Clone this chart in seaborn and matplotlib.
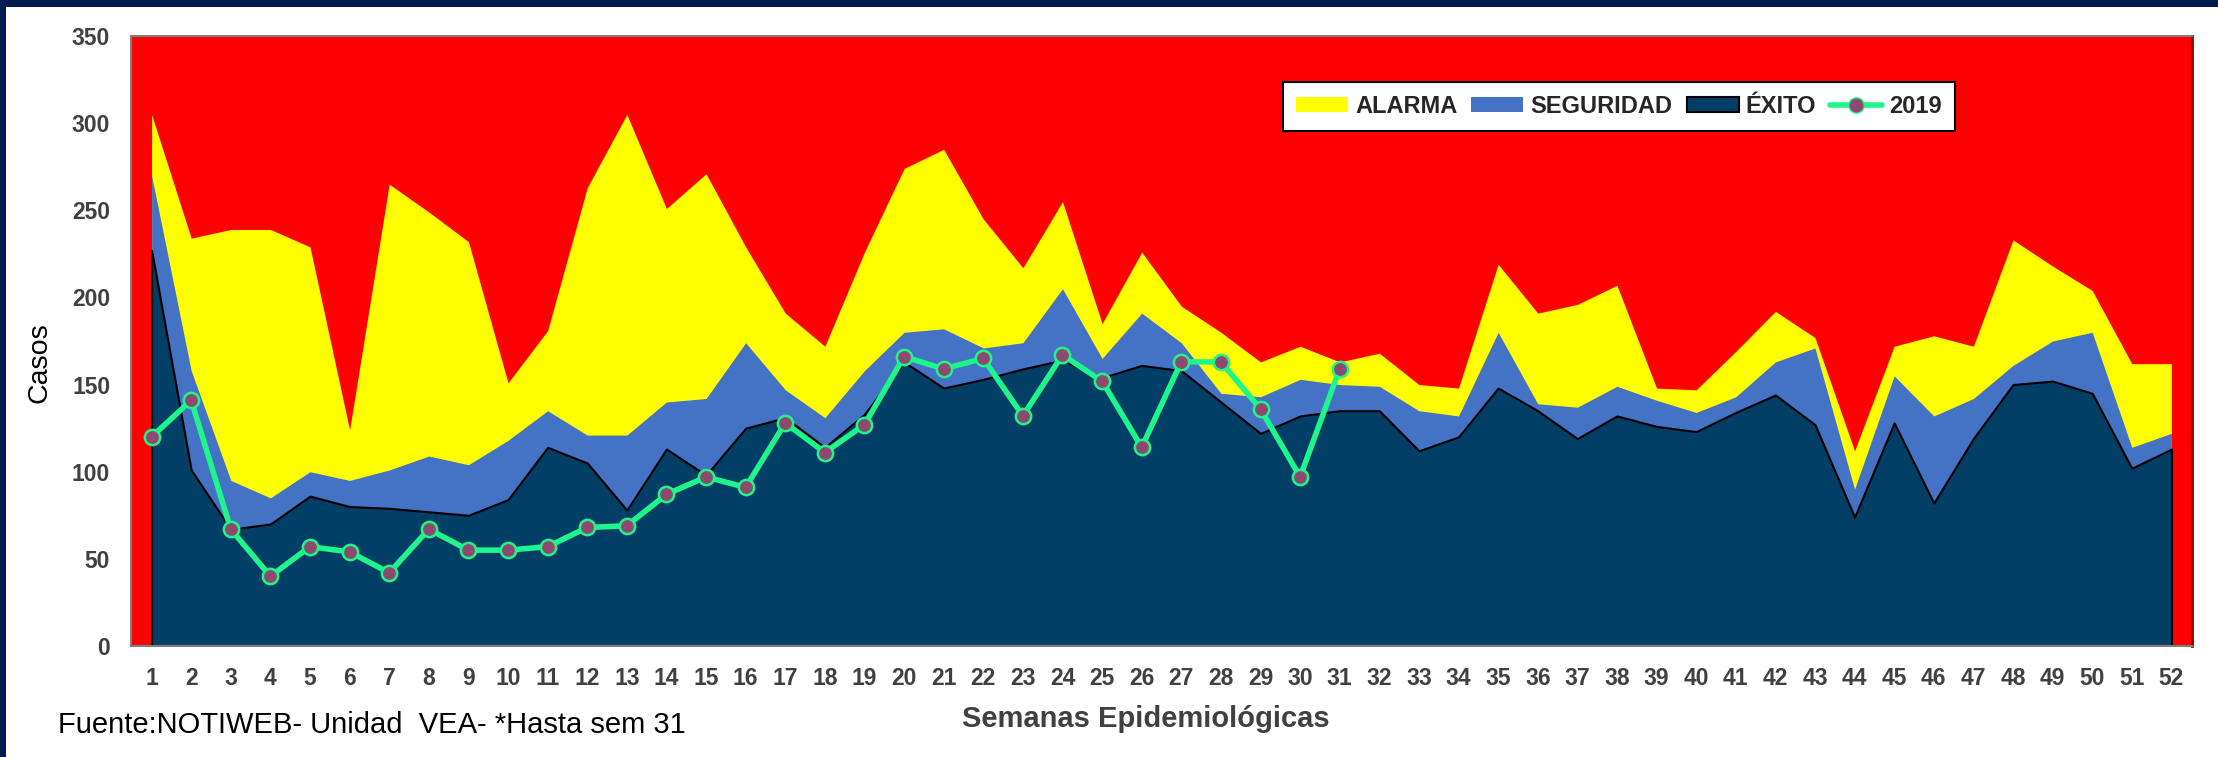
import matplotlib
matplotlib.use("Agg")
import matplotlib.pyplot as plt
import seaborn as sns
import pandas as pd
from matplotlib.patches import Rectangle, Patch
from matplotlib.lines import Line2D

# -------------------------------
# DATA (canal endémico, semanas 1-52)
# -------------------------------
semanas = list(range(1, 53))

exito = [227, 101, 67, 70, 86, 80, 79, 77, 75, 84, 114, 105, 78, 113, 98,
         125, 131, 114, 133, 163, 148, 153, 159, 164, 154, 161, 158, 140, 122,
         132, 135, 135, 112, 120, 148, 135, 119, 132, 126, 123, 134, 144, 127,
         74, 128, 82, 119, 150, 152, 145, 102, 113]

seguridad = [270, 158, 95, 85, 100, 95, 101, 109, 104, 118, 135, 121, 121, 140,
             142, 174, 147, 131, 158, 180, 182, 171, 174, 205, 165, 191, 174,
             145, 143, 153, 150, 149, 135, 132, 180, 139, 137, 149, 141, 134,
             143, 163, 171, 90, 155, 132, 142, 161, 175, 180, 114, 122]

alarma = [305, 234, 239, 239, 229, 124, 265, 249, 232, 151, 181, 263, 305, 251,
          271, 229, 191, 172, 226, 274, 285, 245, 217, 255, 185, 226, 195, 180,
          163, 172, 163, 168, 150, 148, 219, 191, 196, 207, 148, 147, 169, 192,
          177, 112, 172, 178, 172, 233, 218, 204, 162, 162]

semanas_2019 = list(range(1, 32))
casos_2019 = [120, 141, 67, 40, 57, 54, 42, 67, 55, 55, 57, 68, 69, 87, 97, 91,
              128, 111, 127, 166, 159, 165, 132, 167, 152, 114, 163, 163, 136,
              97, 159]

ROJO = '#FF0000'
AMARILLO = '#FFFF00'
AZUL = '#4472C4'
OSCURO = '#023F67'
VERDE = '#1EF58A'
MARCADOR = '#8E4A6E'
GRIS = '#404040'

# -------------------------------
# PLOT
# -------------------------------
sns.set_style('white')
plt.rcParams['font.family'] = ['Liberation Sans', 'DejaVu Sans']

fig = plt.figure(figsize=(22.18, 7.57), dpi=100)
ax = fig.add_axes([131/2218, 1 - 646/757, (2192 - 131)/2218, (646 - 36)/757])
ax.set_facecolor(ROJO)

ax.fill_between(semanas, 0, alarma, color=AMARILLO, lw=0)
ax.fill_between(semanas, 0, seguridad, color=AZUL, lw=0)
ax.fill_between(semanas, 0, exito, facecolor=OSCURO, edgecolor='black', lw=1.5)

df19 = pd.DataFrame({'Semana': semanas_2019, 'Casos': casos_2019})
sns.lineplot(data=df19, x='Semana', y='Casos', ax=ax, color=VERDE, lw=4,
             marker='o', markersize=11, markerfacecolor=MARCADOR,
             markeredgecolor=VERDE, markeredgewidth=1.8, zorder=5)

ax.set_xlim(0.48, 52.52)
ax.set_ylim(0, 350)
ax.set_xticks(semanas)
ax.set_yticks(range(0, 351, 50))
ax.tick_params(axis='x', length=0, pad=15, labelsize=16.5, labelcolor=GRIS)
ax.tick_params(axis='y', length=0, pad=15, labelsize=16.5, labelcolor=GRIS)
for lab in ax.get_xticklabels() + ax.get_yticklabels():
    lab.set_fontweight('bold')
ax.set_xlabel('')
ax.set_ylabel('')

for s in ['top', 'left', 'bottom']:
    ax.spines[s].set_color('#808080')
    ax.spines[s].set_linewidth(1.5)
ax.spines['right'].set_color('#8B0000')
ax.spines['right'].set_linewidth(2)

handles = [
    Patch(facecolor=AMARILLO, edgecolor='none', label='ALARMA'),
    Patch(facecolor=AZUL, edgecolor='none', label='SEGURIDAD'),
    Patch(facecolor=OSCURO, edgecolor='black', lw=1.5, label='ÉXITO'),
    Line2D([], [], color=VERDE, lw=4, marker='o', markersize=11,
           markerfacecolor=MARCADOR, markeredgecolor=VERDE, label='2019'),
]
leg = ax.legend(handles=handles, loc='center', bbox_to_anchor=(0.722, 0.884),
                ncol=4, frameon=True, fancybox=False, framealpha=1,
                edgecolor='black', prop={'weight': 'bold', 'size': 17},
                handlelength=2.2, handleheight=0.6, handletextpad=0.3,
                columnspacing=0.6, borderpad=0.55)
leg.get_frame().set_linewidth(1.5)

fig.text(40/2218, 1 - 363/757, 'Casos', rotation=90, ha='center', va='center',
         fontsize=20.5, color='black')
fig.text(1146/2218, 1 - 727/757, 'Semanas Epidemiológicas', ha='center',
         va='baseline', fontsize=21, fontweight='bold', color=GRIS)
fig.text(58/2218, 1 - 733/757, 'Fuente:NOTIWEB- Unidad  VEA- *Hasta sem 31',
         ha='left', va='baseline', fontsize=21, color='black')

# marco azul oscuro (arriba e izquierda)
fig.patches.append(Rectangle((0, 1 - 7/757), 1, 7/757, transform=fig.transFigure,
                             facecolor='#021B4F', edgecolor='none'))
fig.patches.append(Rectangle((0, 0), 6/2218, 1, transform=fig.transFigure,
                             facecolor='#021B4F', edgecolor='none'))

fig.savefig('out.png', dpi=100)
plt.close(fig)
